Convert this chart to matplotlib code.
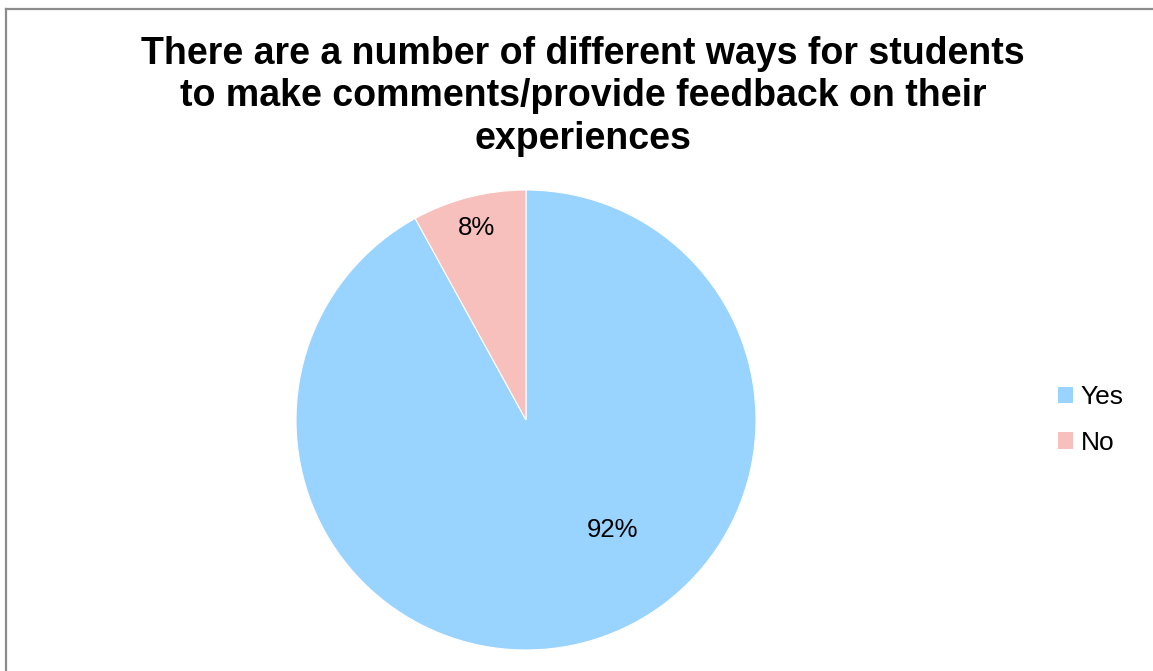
import matplotlib
matplotlib.use("Agg")
import matplotlib.pyplot as plt
from matplotlib.patches import Patch
from matplotlib.lines import Line2D

plt.rcParams['font.family'] = ['Liberation Sans', 'DejaVu Sans']

title = "There are a number of different ways for students\nto make comments/provide feedback on their\nexperiences"
categories = ["Yes", "No"]
values = [92, 8]
colors = ["#99D3FF", "#F7C0BD"]

W, H = 1153, 671
fig = plt.figure(figsize=(W / 100, H / 100), dpi=100)
fig.patch.set_facecolor("white")

# pie axes: center (526, 420) px, radius 230 px
cx, cy, r = 526, 420, 230
ax = fig.add_axes([(cx - r) / W, (H - cy - r) / H, 2 * r / W, 2 * r / H])
wedges, texts, autotexts = ax.pie(
    values, colors=colors, startangle=90, counterclock=False,
    autopct=lambda p: f"{p:.0f}%", pctdistance=0.86,
    wedgeprops=dict(edgecolor="white", linewidth=0.8),
    textprops=dict(fontsize=18.5, color="black"))
ax.set_xlim(-1, 1)
ax.set_ylim(-1, 1)
ax.set_aspect("equal")
ax.axis("off")
# Excel-like placement of the large slice label
autotexts[0].set_position((0.374, -0.478))

fig.text(583 / W, 1 - 96.5 / H, title, ha="center", va="center",
         fontsize=27, fontweight="bold", linespacing=1.23,
         multialignment="center")

handles = [Patch(facecolor=c, edgecolor="none") for c in colors]
fig.legend(handles, categories, loc="center left",
           bbox_to_anchor=(1058 / W, 1 - 420 / H), frameon=False,
           fontsize=19, handlelength=0.58, handleheight=0.58,
           handletextpad=0.28, labelspacing=0.82, borderpad=0,
           borderaxespad=0)

# chart area border (top and left edges visible)
border_kw = dict(color="#8C8C8C", linewidth=1.6, transform=fig.transFigure)
fig.add_artist(Line2D([5.5 / W, 1.0], [1 - 8.5 / H, 1 - 8.5 / H], **border_kw))
fig.add_artist(Line2D([5.5 / W, 5.5 / W], [1 - 8.5 / H, 0.0], **border_kw))

fig.savefig("out.png", dpi=100)
